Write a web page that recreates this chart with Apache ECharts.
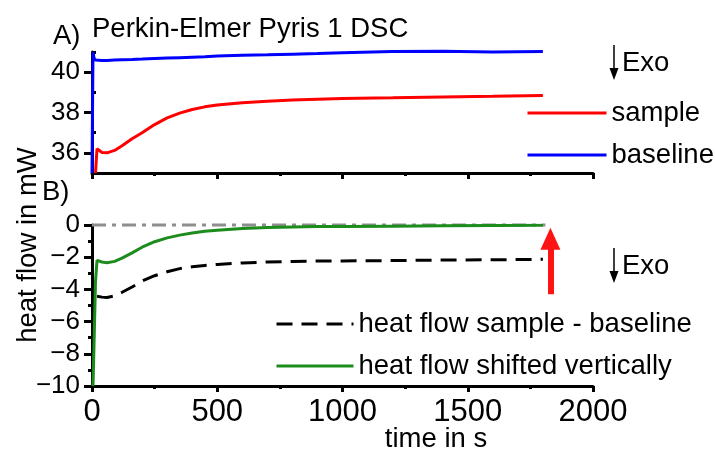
<!DOCTYPE html>
<html>
<head>
<meta charset="utf-8">
<script src="https://cdn.jsdelivr.net/npm/echarts@6/dist/echarts.min.js"></script>
<style>
  html, body { margin: 0; padding: 0; background: #ffffff; }
  #chart { width: 715px; height: 452px; }
</style>
</head>
<body>
<div id="chart"></div>
<script>
// Time axis (s) shared by all recorded traces
const time = [0, 4, 8, 14, 20, 40, 60, 90, 120, 160, 200, 250, 300, 350, 400, 450, 500, 600, 700, 800, 900, 1000, 1200, 1400, 1600, 1800];

// Panel A: raw heat flow (mW)
const sample   = [null, null, null, 35.0, 36.2, 36.02, 36.0, 36.12, 36.35, 36.7, 37.0, 37.4, 37.73, 37.97, 38.15, 38.28, 38.37, 38.48, 38.56, 38.62, 38.66, 38.7, 38.73, 38.77, 38.8, 38.84];
const baseline = [35.0, 41.0, 40.7, 40.6, 40.6, 40.58, 40.58, 40.6, 40.62, 40.63, 40.65, 40.68, 40.7, 40.72, 40.74, 40.76, 40.8, 40.84, 40.86, 40.89, 40.92, 40.96, 41.02, 41.04, 41.0, 41.02];

// Panel B: corrected heat flow (mW)
const difference = [null, null, null, null, -4.42, -4.48, -4.5, -4.4, -4.18, -3.85, -3.48, -3.15, -2.9, -2.71, -2.6, -2.51, -2.45, -2.36, -2.3, -2.26, -2.24, -2.23, -2.21, -2.18, -2.16, -2.13];
const shifted    = [null, -10.0, -7.5, -3.5, -2.2, -2.3, -2.34, -2.26, -2.06, -1.73, -1.38, -1.04, -0.8, -0.63, -0.5, -0.39, -0.32, -0.22, -0.16, -0.12, -0.1, -0.09, -0.07, -0.05, -0.03, -0.01];

// Zero reference line in panel B
const zeroTime = [0, 1810];
const zeroValue = [0, 0];

// Arrow marking the vertical shift (time, from, to)
const shiftArrowTime = 1830;
const shiftArrowFrom = -4.3;
const shiftArrowTo = -0.85;

// Axis ticks
const xTicks = { min: 0, max: 2000, interval: 500 };
const topMajorTicks = [36, 38, 40];
const topMinorTicks = [35, 37, 39, 41];
const bottomTicks = { min: -10, max: 0, interval: 2 };

const FONT = '"Liberation Sans", Arial, Helvetica, sans-serif';
const pairs = (ys) => time.map((t, i) => [t, ys[i]]).filter(p => p[1] !== null);

const axisLine = { show: true, onZero: false, lineStyle: { color: '#000', width: 3 } };

const chart = echarts.init(document.getElementById('chart'), null, { renderer: 'canvas' });

const legendCommon = {
  orient: 'vertical', padding: 0, itemHeight: 14, itemGap: 12,
  itemStyle: { opacity: 0 },
  lineStyle: { width: 3 },
  textStyle: { fontFamily: FONT, fontSize: 27.5, color: '#000', lineHeight: 30 },
  selectedMode: false
};

const option = {
  animation: false,
  backgroundColor: '#ffffff',
  title: {
    text: 'Perkin-Elmer Pyris 1 DSC',
    left: 92, top: 15, padding: 0,
    textStyle: { fontFamily: FONT, fontSize: 27.5, fontWeight: 'normal', color: '#000' }
  },
  grid: [
    { left: 92, top: 52, width: 501, height: 121 },
    { left: 92, top: 225, width: 501, height: 161 }
  ],
  xAxis: [
    {
      gridIndex: 0, type: 'value', min: xTicks.min, max: xTicks.max, interval: xTicks.interval,
      axisLine, axisTick: { show: true, length: 6, lineStyle: { color: '#000', width: 3 } },
      minorTick: { show: true, splitNumber: 2, length: 3, lineStyle: { color: '#000', width: 3 } },
      axisLabel: { show: false }, splitLine: { show: false }
    },
    {
      gridIndex: 1, type: 'value', min: xTicks.min, max: xTicks.max, interval: xTicks.interval,
      axisLine, axisTick: { show: true, length: 6, lineStyle: { color: '#000', width: 3 } },
      minorTick: { show: true, splitNumber: 2, length: 3, lineStyle: { color: '#000', width: 3 } },
      axisLabel: {
        show: true, margin: 11, fontFamily: FONT, fontSize: 31, color: '#000',
        formatter: v => String(v)
      },
      splitLine: { show: false }
    }
  ],
  yAxis: [
    {
      gridIndex: 0, type: 'value', min: 35, max: 41,
      axisLine,
      axisTick: { show: true, customValues: topMajorTicks, length: 8, lineStyle: { color: '#000', width: 3 } },
      axisLabel: { show: true, customValues: topMajorTicks, margin: 12, fontFamily: FONT, fontSize: 26, color: '#000' },
      splitLine: { show: false }
    },
    {
      gridIndex: 0, type: 'value', min: 35, max: 41,
      axisLine: { show: false },
      axisTick: { show: true, customValues: topMinorTicks, length: 4, lineStyle: { color: '#000', width: 3 } },
      axisLabel: { show: false }, splitLine: { show: false }
    },
    {
      gridIndex: 1, type: 'value', min: bottomTicks.min, max: bottomTicks.max, interval: bottomTicks.interval,
      axisLine,
      axisTick: { show: true, length: 8, lineStyle: { color: '#000', width: 3 } },
      minorTick: { show: true, splitNumber: 2, length: 4, lineStyle: { color: '#000', width: 3 } },
      axisLabel: {
        show: true, margin: 12, fontFamily: FONT, fontSize: 26, color: '#000',
        formatter: v => (v < 0 ? '\u2212' + Math.abs(v) : String(v))
      },
      splitLine: { show: false }
    }
  ],
  legend: [
    Object.assign({}, legendCommon, {
      data: ['sample', 'baseline'], left: 526, top: 98, itemWidth: 79
    }),
    Object.assign({}, legendCommon, {
      data: ['heat flow sample - baseline', 'heat flow shifted vertically'], left: 275, top: 309, itemWidth: 77
    })
  ],
  series: [
    {
      name: 'sample', type: 'line', xAxisIndex: 0, yAxisIndex: 0,
      data: pairs(sample), symbol: 'none', clip: true,
      lineStyle: { color: '#ff0000', width: 3 }, itemStyle: { color: '#ff0000' }
    },
    {
      name: 'baseline', type: 'line', xAxisIndex: 0, yAxisIndex: 0,
      data: pairs(baseline), symbol: 'none', clip: false,
      lineStyle: { color: '#0000ff', width: 3 }, itemStyle: { color: '#0000ff' }
    },
    {
      name: 'zero', type: 'line', xAxisIndex: 1, yAxisIndex: 2,
      data: zeroTime.map((t, i) => [t, zeroValue[i]]), symbol: 'none', clip: false,
      lineStyle: { color: '#8e8e8e', width: 3, type: [14, 6, 4, 6] }
    },
    {
      name: 'heat flow sample - baseline', type: 'line', xAxisIndex: 1, yAxisIndex: 2,
      data: pairs(difference), symbol: 'none', clip: true,
      lineStyle: { color: '#000000', width: 3, type: [16, 9] }, itemStyle: { color: '#000000' }
    },
    {
      name: 'heat flow shifted vertically', type: 'line', xAxisIndex: 1, yAxisIndex: 2,
      data: pairs(shifted), symbol: 'none', clip: true,
      lineStyle: { color: '#1c8c1c', width: 3 }, itemStyle: { color: '#1c8c1c' },
      markLine: {
        silent: true, symbol: ['none', 'triangle'], symbolSize: [20, 22],
        label: { show: false },
        lineStyle: { color: '#ff1414', width: 6, type: 'solid' },
        data: [[
          { coord: [shiftArrowTime, shiftArrowFrom] },
          { coord: [shiftArrowTime, shiftArrowTo] }
        ]]
      }
    }
  ],
  graphic: [
    { type: 'text', left: 53, top: 22, style: { text: 'A)', font: '27.5px ' + FONT, fill: '#000' } },
    { type: 'text', left: 42, top: 178, style: { text: 'B)', font: '27.5px ' + FONT, fill: '#000' } },
    {
      type: 'text', x: 28, y: 245, rotation: Math.PI / 2,
      style: { text: 'heat flow in mW', font: '27.5px ' + FONT, fill: '#000', align: 'center', verticalAlign: 'middle' }
    },
    {
      type: 'text', x: 436, y: 439,
      style: { text: 'time in s', font: '27.5px ' + FONT, fill: '#000', align: 'center', verticalAlign: 'middle' }
    },
    // Exo direction markers
    { type: 'line', shape: { x1: 614, y1: 45, x2: 614, y2: 70 }, style: { stroke: '#000', lineWidth: 1.5 } },
    { type: 'polygon', shape: { points: [[609.5, 68], [618.5, 68], [614, 80]] }, style: { fill: '#000' } },
    { type: 'text', x: 622, y: 63, style: { text: 'Exo', font: '27.5px ' + FONT, fill: '#000', verticalAlign: 'middle' } },
    { type: 'line', shape: { x1: 614, y1: 248, x2: 614, y2: 273 }, style: { stroke: '#000', lineWidth: 1.5 } },
    { type: 'polygon', shape: { points: [[609.5, 271], [618.5, 271], [614, 283]] }, style: { fill: '#000' } },
    { type: 'text', x: 622, y: 266, style: { text: 'Exo', font: '27.5px ' + FONT, fill: '#000', verticalAlign: 'middle' } }
  ]
};

chart.setOption(option);
</script>
</body>
</html>
